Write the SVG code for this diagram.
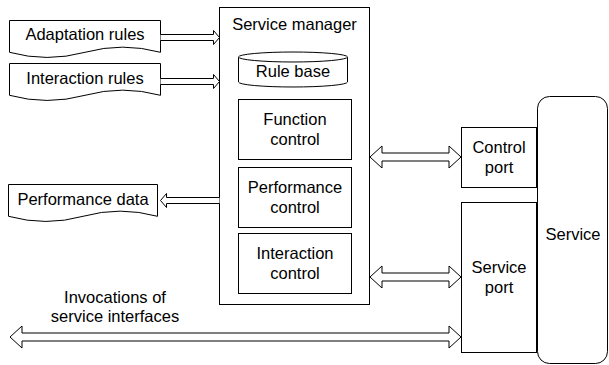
<svg xmlns="http://www.w3.org/2000/svg" width="609" height="365" viewBox="0 0 609 365">
<style>
.s{fill:#fff;stroke:#000;stroke-width:1}
.a{fill:#fff;stroke:#000;stroke-width:1;stroke-linejoin:miter}
text{font-family:"Liberation Sans",Arial,sans-serif;font-size:16.5px;fill:#000;text-anchor:middle}
</style>
<rect width="609" height="365" fill="#fff"/>
<g id="service">
<rect class="s" x="537.5" y="96.5" width="70" height="267" rx="12" ry="12"/>
<text x="573" y="240">Service</text>
</g>
<g id="adaptation-rules">
<path class="s" d="M9.5,20.5 H160.5 V52.3 Q122.5,42 85,52.3 Q47,62.6 9.5,52.3 Z"/>
<text x="85" y="40">Adaptation rules</text>
</g>
<g id="interaction-rules">
<path class="s" d="M9.5,63.5 H160.5 V95.3 Q122.5,85 85,95.3 Q47,105.6 9.5,95.3 Z"/>
<text x="85" y="84">Interaction rules</text>
</g>
<g id="performance-data">
<path class="s" d="M8.5,184.5 H157.5 V216.3 Q120,206 83,216.3 Q46,226.6 8.5,216.3 Z"/>
<text x="83" y="205">Performance data</text>
</g>
<g id="service-manager">
<rect class="s" x="219.5" y="7.5" width="150" height="297"/>
<text x="294.5" y="30">Service manager</text>
</g>
<g id="rule-base">
<path class="s" d="M238.5,57 A54.5,5 0 0 1 347.5,57 V82 A54.5,5 0 0 1 238.5,82 Z"/>
<path class="s" d="M238.5,57 A54.5,5 0 0 0 347.5,57" fill="none"/>
<text x="293" y="77">Rule base</text>
</g>
<g id="function-control">
<rect class="s" x="238.5" y="99.5" width="113" height="60"/>
<text x="295" y="125">Function</text>
<text x="295" y="145">control</text>
</g>
<g id="performance-control">
<rect class="s" x="238.5" y="167.5" width="113" height="60"/>
<text x="295" y="193">Performance</text>
<text x="295" y="213">control</text>
</g>
<g id="interaction-control">
<rect class="s" x="238.5" y="233.5" width="113" height="60"/>
<text x="295" y="259">Interaction</text>
<text x="295" y="279">control</text>
</g>
<g id="control-port">
<rect class="s" x="461.5" y="127.5" width="75" height="60"/>
<text x="499" y="153">Control</text>
<text x="499" y="173">port</text>
</g>
<g id="service-port">
<rect class="s" x="461.5" y="202.5" width="75" height="150"/>
<text x="499" y="273">Service</text>
<text x="499" y="293">port</text>
</g>
<g id="connectors">
<path class="a" d="M160.5,34.5 H213.5 V30.5 L219.5,37.5 L213.5,44.5 V40.5 H160.5"/>
<path class="a" d="M160.5,78.5 H213.5 V74.5 L219.5,81.5 L213.5,88.5 V84.5 H160.5"/>
<path class="a" d="M219.5,197.5 H166.5 V193.5 L160.5,200.5 L166.5,207.5 V203.5 H219.5"/>
<path class="a" d="M370,157 L382,146 V153 H449 V146 L461,157 L449,168 V161 H382 V168 Z"/>
<path class="a" d="M370,277 L382,266 V273 H449 V266 L461,277 L449,288 V281 H382 V288 Z"/>
<path class="a" d="M10,337 L22,326 V333 H449 V326 L461,337 L449,348 V341 H22 V348 Z"/>
<text x="115" y="303">Invocations of</text>
<text x="115" y="322">service interfaces</text>
</g>
</svg>
